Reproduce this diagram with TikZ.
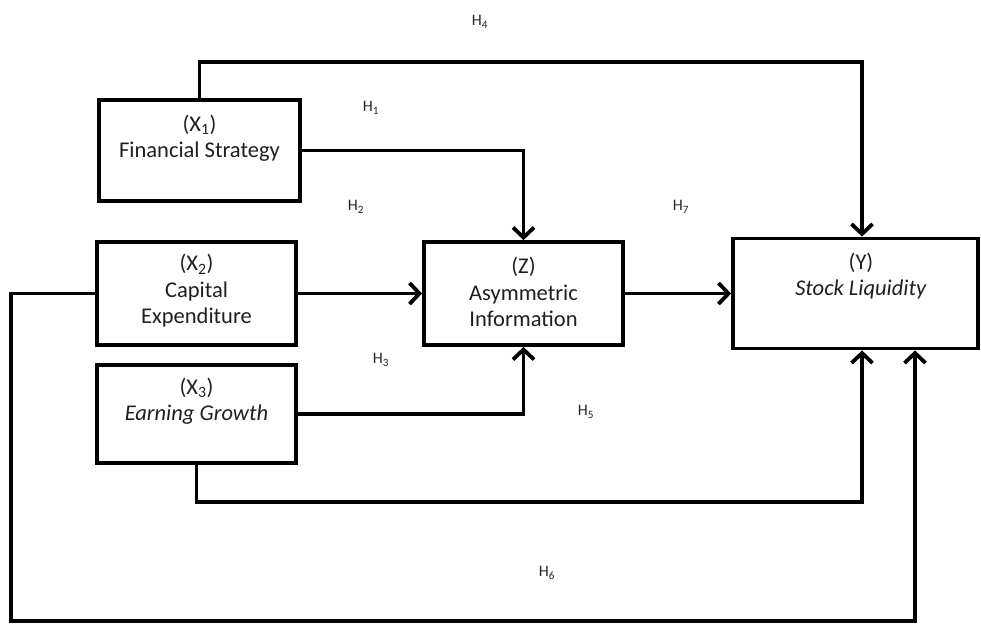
\documentclass[tikz,border=0pt]{standalone}
\usepackage{fontspec}
\setmainfont{Carlito}
\usetikzlibrary{arrows.meta}
\begin{document}
\begin{tikzpicture}[x=1pt,y=-1pt,
  box/.style={draw, line width=3.8pt, rectangle, inner sep=0pt},
  txt/.style={align=center, font=\fontsize{22.5}{26.5}\selectfont, text=black!88},
  hlab/.style={font=\fontsize{16}{18}\selectfont, text=black!85},
  arr/.style={line width=3.8pt, -{Straight Barb[length=10pt,width=21pt,line width=3.8pt]}}]
\useasboundingbox (0,0) rectangle (981,625);
% boxes
\node[box, minimum width=201pt, minimum height=101pt] (X1) at (199.5,150.5) {};
\node[box, minimum width=199pt, minimum height=103pt] (X2) at (196.5,293.5) {};
\node[box, minimum width=199pt, minimum height=98pt] (X3) at (196.5,414) {};
\node[box, minimum width=199pt, minimum height=103pt] (Z) at (523.5,293.5) {};
\node[box, minimum width=245pt, minimum height=110pt] (Y) at (855.5,293.5) {};
% texts
\node[txt] (tX1) at (199.5,138) {(X\textsubscript{1})\\Financial Strategy};
\node[txt] (tX2) at (196.5,291) {(X\textsubscript{2})\\Capital\\Expenditure};
\node[txt] (tX3) at (196.5,401) {(X\textsubscript{3})\\\textit{Earning Growth}};
\node[txt] (tZ) at (523.5,292) {(Z)\\Asymmetric\\Information};
\node[txt] (tY) at (861,276) {(Y)\\\textit{Stock Liquidity}};
% hypothesis labels
\node[hlab] (H4) at (480,22) {H\textsubscript{4}};
\node[hlab] (H1) at (371,108) {H\textsubscript{1}};
\node[hlab] (H2) at (356,207) {H\textsubscript{2}};
\node[hlab] (H7) at (681,207) {H\textsubscript{7}};
\node[hlab] (H3) at (381,360) {H\textsubscript{3}};
\node[hlab] (H5) at (586,412) {H\textsubscript{5}};
\node[hlab] (H6) at (547,573) {H\textsubscript{6}};
% helper coordinates
\coordinate (c4) at (199.5,62);
\coordinate (c5) at (196.5,502);
\coordinate (c6) at (11,621);
% connectors
\draw[arr] (X1.north) -- (c4) -| ([xshift=6.5pt]Y.north);
\draw[arr] (X1.east) -| (Z.north);
\draw[arr] (X2.east) -- (Z.west);
\draw[arr] (Z.east) -- (Y.west);
\draw[arr] (X3.east) -| (Z.south);
\draw[arr] (X3.south) -- (c5) -| ([xshift=6.5pt]Y.south);
\draw[arr] (X2.west) -- (X2.west -| c6) -- (c6) -| ([xshift=59.5pt]Y.south);
\end{tikzpicture}
\end{document}
